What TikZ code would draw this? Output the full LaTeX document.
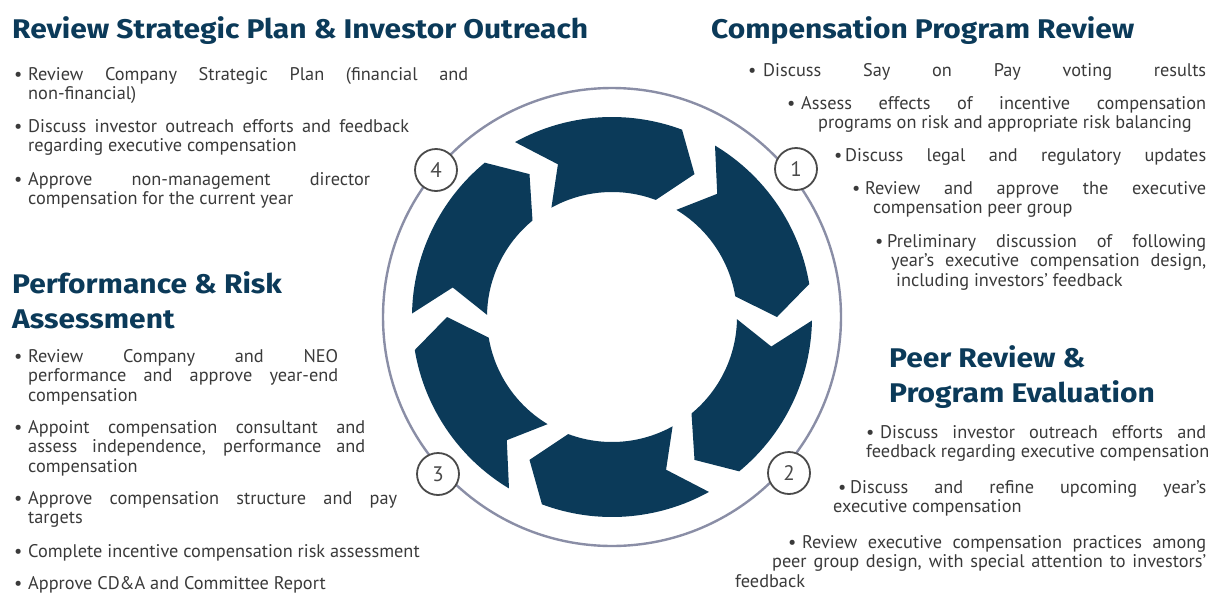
\documentclass[tikz,border=0pt]{standalone}
\usepackage{fontspec}
\setmainfont{PT Sans}
\newfontfamily\headfont{Fira Sans}[FakeStretch=1.11]
\definecolor{navy}{HTML}{0B3A59}
\definecolor{bodygray}{HTML}{3A3A3A}
\definecolor{ringline}{HTML}{8A8EA6}
\definecolor{numgray}{HTML}{4A4A4A}
\tolerance=10000
\hbadness=10000
\hyphenpenalty=10000
\exhyphenpenalty=10000
\tikzset{
  heading/.style={anchor=base west, inner sep=0pt, text=navy, align=left,
    font=\headfont\bfseries\fontsize{27}{35}\selectfont},
  itemtext/.style={anchor=base west, inner sep=0pt, text=bodygray, text width=#1,
    align=justify, font=\fontsize{18.3}{19.5}\selectfont},
  num/.style={circle, draw=numgray, line width=1.8pt, fill=white, minimum size=42pt,
    inner sep=0pt, text=numgray, font=\fontsize{21}{21}\selectfont},
}
% name, position, text width, parshape, bullet box, text
\newcommand{\bitem}[6]{%
 \node (#1) [itemtext=#3] at (#2) {\parshape #4 \noindent\makebox[#5][l]{\textbullet}#6\par};%
}
\begin{document}
\begin{tikzpicture}[x=1pt, y=-1pt]
  \useasboundingbox (0,0) rectangle (1208,592);
  % cycle
  \begin{scope}[shift={(612,317)}]
    \draw[ringline, line width=2.4pt] (0,0) circle[radius=229pt];
    \foreach \t in {119,59,...,-181}
      \fill[navy] (\t:200pt) arc[start angle=\t, delta angle=-49.5, radius=200pt]
        -- (\t-59:165pt) -- (\t-49.5:125pt)
        arc[start angle=\t-49.5, delta angle=49.5, radius=125pt]
        -- (\t-9.5:162pt) -- cycle;
  \end{scope}
  \node[num] (n1) at (796,169) {1};
  \node[num] (n2) at (789,473) {2};
  \node[num] (n3) at (438,474) {3};
  \node[num] (n4) at (436,170) {4};

  % headings (base = last line)
  \node[heading] (h4) at (12,38) {Review Strategic Plan \& Investor Outreach};
  \node[heading] (h1) at (711,38) {Compensation Program Review};
  \node[heading] (h3) at (12,328) {Performance \& Risk\\Assessment};
  \node[heading] (h2) at (889,402) {Peer Review \&\\Program Evaluation};

  % step 4
  \bitem{s4a}{14,80}{454pt}{2 0pt 454pt 14pt 440pt}{14pt}{Review Company Strategic Plan (financial and\linebreak non-financial)}
  \bitem{s4b}{14,132}{395pt}{2 0pt 395pt 14pt 381pt}{14pt}{Discuss investor outreach efforts and feedback\linebreak regarding executive compensation}
  \bitem{s4c}{14,185}{356pt}{2 0pt 356pt 14pt 342pt}{14pt}{Approve non-management director\linebreak compensation for the current year}

  % step 3
  \bitem{s3a}{14,362}{324pt}{2 0pt 324pt 14pt 310pt}{14pt}{Review Company and NEO\linebreak performance and approve year-end\linebreak compensation}
  \bitem{s3b}{14,433}{351pt}{2 0pt 351pt 14pt 337pt}{14pt}{Appoint compensation consultant and\linebreak assess independence, performance and\linebreak compensation}
  \bitem{s3c}{14,504}{383pt}{2 0pt 383pt 14pt 369pt}{14pt}{Approve compensation structure and pay\linebreak targets}
  \bitem{s3d}{14,557}{430pt}{1 0pt 430pt}{14pt}{Complete incentive compensation risk assessment}
  \bitem{s3e}{14,589}{430pt}{1 0pt 430pt}{14pt}{Approve CD\&A and Committee Report}

  % step 1
  \bitem{s1a}{748,76}{458pt}{1 0pt 458pt}{15pt}{\parfillskip=0pt Discuss Say on Pay voting results}
  \bitem{s1b}{787,109}{431pt}{2 0pt 419pt 31pt 400pt}{14pt}{Assess effects of incentive compensation\linebreak programs on risk and appropriate risk balancing}
  \bitem{s1c}{834,161}{372pt}{1 0pt 372pt}{11pt}{\parfillskip=0pt Discuss legal and regulatory updates}
  \bitem{s1d}{852,194}{354pt}{2 0pt 354pt 21pt 333pt}{13pt}{Review and approve the executive\linebreak compensation peer group}
  \bitem{s1e}{875,247}{331pt}{3 0pt 331pt 16pt 315pt 21pt 310pt}{12pt}{Preliminary discussion of following\linebreak year's executive compensation design,\linebreak including investors' feedback}

  % step 2
  \bitem{s2a}{866,438}{350pt}{2 0pt 340pt 0pt 350pt}{14pt}{Discuss investor outreach efforts and\linebreak feedback regarding executive compensation}
  \bitem{s2b}{833,493}{373pt}{2 5pt 368pt 0pt 373pt}{12pt}{Discuss and refine upcoming year's\linebreak executive compensation}
  \bitem{s2c}{735,548}{471pt}{3 53pt 418pt 37pt 434pt 0pt 471pt}{14pt}{Review executive compensation practices among\linebreak peer group design, with special attention to investors'\linebreak feedback}
\end{tikzpicture}
\end{document}
